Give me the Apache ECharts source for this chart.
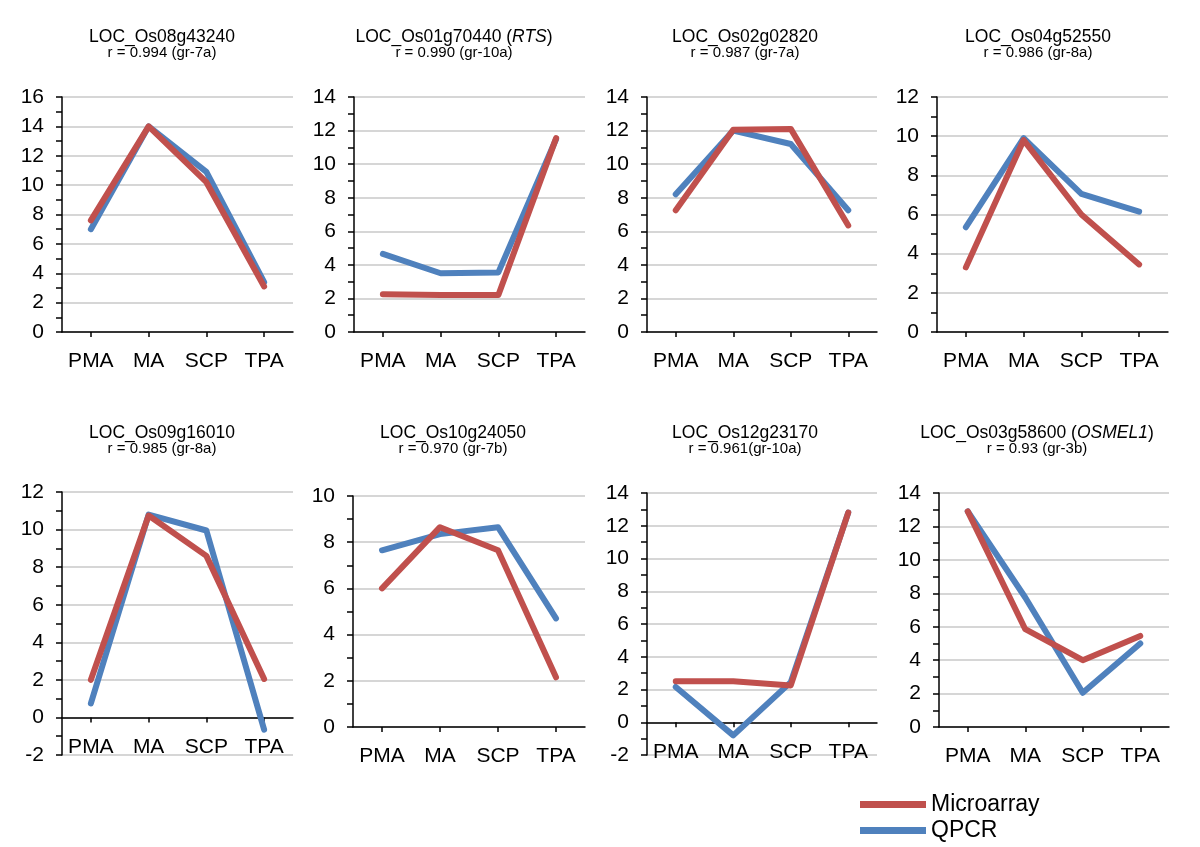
<!DOCTYPE html>
<html>
<head>
<meta charset="utf-8">
<script src="https://cdn.jsdelivr.net/npm/echarts@6/dist/echarts.min.js"></script>
<style>html,body{margin:0;padding:0;background:#fff;}#c{width:1200px;height:847px;}</style>
</head>
<body>
<div id="c"></div>
<script>
// ---- data ----
var categories = ['PMA', 'MA', 'SCP', 'TPA'];
var geneIds = ['LOC_Os08g43240', 'LOC_Os01g70440', 'LOC_Os02g02820', 'LOC_Os04g52550',
               'LOC_Os09g16010', 'LOC_Os10g24050', 'LOC_Os12g23170', 'LOC_Os03g58600'];
var geneNames = ['', 'RTS', '', '', '', '', '', 'OSMEL1'];
var rLabels = ['r = 0.994 (gr-7a)', 'r = 0.990 (gr-10a)', 'r = 0.987 (gr-7a)', 'r = 0.986 (gr-8a)',
               'r = 0.985 (gr-8a)', 'r = 0.970 (gr-7b)', 'r = 0.961(gr-10a)', 'r = 0.93 (gr-3b)'];
var microarray1 = [7.6, 14.0, 10.2, 3.1];
var qpcr1       = [7.0, 14.0, 10.9, 3.4];
var microarray2 = [2.25, 2.2, 2.2, 11.55];
var qpcr2       = [4.65, 3.5, 3.55, 11.5];
var microarray3 = [7.25, 12.05, 12.1, 6.35];
var qpcr3       = [8.2, 12.0, 11.2, 7.25];
var microarray4 = [3.3, 9.8, 6.0, 3.45];
var qpcr4       = [5.35, 9.9, 7.05, 6.15];
var microarray5 = [2.0, 10.75, 8.6, 2.05];
var qpcr5       = [0.75, 10.8, 9.95, -0.65];
var microarray6 = [6.0, 8.65, 7.65, 2.15];
var qpcr6       = [7.65, 8.35, 8.65, 4.7];
var microarray7 = [2.5, 2.5, 2.25, 12.8];
var qpcr7       = [2.15, -0.8, 2.45, 12.8];
var microarray8 = [12.9, 5.85, 4.0, 5.45];
var qpcr8       = [12.9, 7.75, 2.05, 5.0];
var yMin = [0, 0, 0, 0, -2, 0, -2, 0];
var yMax = [16, 14, 14, 12, 12, 10, 14, 14];
var microSeries = [microarray1, microarray2, microarray3, microarray4, microarray5, microarray6, microarray7, microarray8];
var qpcrSeries = [qpcr1, qpcr2, qpcr3, qpcr4, qpcr5, qpcr6, qpcr7, qpcr8];

// ---- layout ----
var FONT = '"Liberation Sans", Arial, sans-serif';
var RED = '#C0504D', BLUE = '#4F81BD';
var gridBoxes = [
  [62, 293, 97, 332], [354, 585, 97, 332], [647, 877, 97, 332], [937, 1168, 97, 332],
  [62, 293, 492, 755], [353, 585, 496, 727], [647, 877, 493, 755], [939, 1169, 493, 727]
];
var titlePos = [[162, 37], [454, 37], [745, 37], [1038, 37], [162, 433], [453, 433], [745, 433], [1037, 433]];
var LABEL_GAP = 19;

var grids = [], xAxes = [], yAxes = [], series = [], graphics = [];
for (var i = 0; i < 8; i++) {
  var b = gridBoxes[i];
  var h = b[3] - b[2];
  // distance from the grid bottom up to the zero line (labels follow the zero line)
  var zeroShift = yMin[i] < 0 ? h * (-yMin[i]) / (yMax[i] - yMin[i]) : 0;
  grids.push({left: b[0], width: b[1] - b[0], top: b[2], height: h, containLabel: false});
  xAxes.push({
    type: 'category', gridIndex: i, data: categories, boundaryGap: true,
    axisLine: {show: true, onZero: true, lineStyle: {color: '#000', width: 1.5}},
    axisTick: {show: true, alignWithLabel: true, length: 5, lineStyle: {color: '#000', width: 1.5}},
    axisLabel: {color: '#000', fontSize: 21, fontFamily: FONT, interval: 0, margin: LABEL_GAP - zeroShift},
    splitLine: {show: false}
  });
  yAxes.push({
    type: 'value', gridIndex: i, min: yMin[i], max: yMax[i], interval: 2,
    axisLine: {show: true, onZero: false, lineStyle: {color: '#000', width: 1.5}},
    axisTick: {show: true, length: 6, lineStyle: {color: '#000', width: 1.5}},
    minorTick: {show: true, splitNumber: 2, length: 6, lineStyle: {color: '#000', width: 1.5}},
    axisLabel: {color: '#000', fontSize: 21, fontFamily: FONT, margin: 18},
    splitLine: {show: true, lineStyle: {color: '#C8C8C8', width: 1.5}}
  });
  series.push({
    name: 'QPCR', type: 'line', xAxisIndex: i, yAxisIndex: i, data: qpcrSeries[i],
    symbol: 'none', lineStyle: {color: BLUE, width: 6, join: 'round', cap: 'round'}, itemStyle: {color: BLUE},
    silent: true, animation: false
  });
  series.push({
    name: 'Microarray', type: 'line', xAxisIndex: i, yAxisIndex: i, data: microSeries[i],
    symbol: 'none', lineStyle: {color: RED, width: 6, join: 'round', cap: 'round'}, itemStyle: {color: RED},
    silent: true, animation: false
  });
  var t = geneNames[i] ? '{n|' + geneIds[i] + ' (}{i|' + geneNames[i] + '}{n|)}' : '{n|' + geneIds[i] + '}';
  graphics.push({
    type: 'text', x: titlePos[i][0], y: titlePos[i][1],
    style: {
      text: t, textAlign: 'center', textVerticalAlign: 'middle', fill: '#000',
      fontSize: 17.5, fontFamily: FONT,
      rich: {
        n: {fontSize: 17.5, fontFamily: FONT, fill: '#000', color: '#000'},
        i: {fontSize: 17.5, fontFamily: FONT, fontStyle: 'italic', fill: '#000', color: '#000'}
      }
    }
  });
  graphics.push({
    type: 'text', x: titlePos[i][0], y: titlePos[i][1] + 16,
    style: {text: rLabels[i], textAlign: 'center', textVerticalAlign: 'middle', fill: '#000', fontSize: 15, fontFamily: FONT}
  });
}

var chart = echarts.init(document.getElementById('c'), null, {renderer: 'canvas'});
chart.setOption({
  backgroundColor: '#fff',
  animation: false,
  grid: grids,
  xAxis: xAxes,
  yAxis: yAxes,
  series: series,
  graphic: graphics,
  legend: {
    data: ['Microarray', 'QPCR'], orient: 'vertical', left: 855, top: 788,
    icon: 'rect', itemWidth: 66, itemHeight: 7, itemGap: 3,
    textStyle: {color: '#000', fontSize: 23, fontFamily: FONT}
  }
});
</script>
</body>
</html>
